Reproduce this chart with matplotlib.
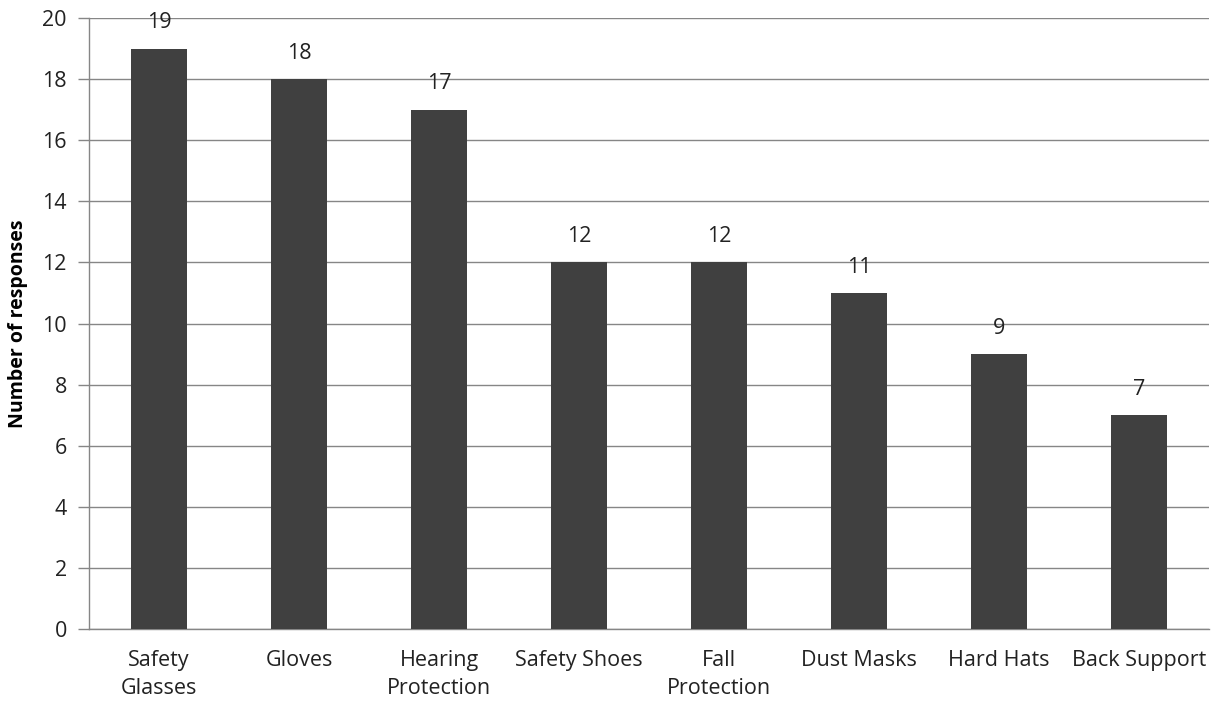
import matplotlib
matplotlib.use("Agg")
import matplotlib.pyplot as plt

categories = ["Safety\nGlasses", "Gloves", "Hearing\nProtection", "Safety Shoes",
              "Fall\nProtection", "Dust Masks", "Hard Hats", "Back Support"]
values = [19, 18, 17, 12, 12, 11, 9, 7]
yticks = [0, 2, 4, 6, 8, 10, 12, 14, 16, 18, 20]

plt.rcParams['font.family'] = ['Open Sans', 'DejaVu Sans']

fig = plt.figure(figsize=(12.13, 7.03), dpi=100)
ax = fig.add_axes([89/1213, 1-629/703, (1209-89)/1213, (629-18)/703])

x = list(range(len(categories)))
ax.bar(x, values, width=0.4, color="#404040", zorder=3)
ax.set_xlim(-0.5, len(categories) - 0.5)
ax.set_ylim(0, 20)
ax.set_yticks(yticks)
ax.set_yticklabels([str(t) for t in yticks], fontsize=15.5, color="#222222")
ax.set_xticks(x)
ax.set_xticklabels(categories, fontsize=15.5, color="#222222", linespacing=1.45)
ax.tick_params(axis='x', length=0, pad=15)
ax.tick_params(axis='y', length=8, width=1, color="#868686", pad=8)
ax.grid(axis='y', color="#868686", linewidth=1, zorder=0)
for s in ['top', 'right']:
    ax.spines[s].set_visible(False)
for s in ['left', 'bottom']:
    ax.spines[s].set_color("#868686")
    ax.spines[s].set_linewidth(1)

for xi, v in zip(x, values):
    ax.annotate(str(v), (xi, v), xytext=(0, 11), textcoords='offset points',
                ha='center', va='bottom', fontsize=15.5, color="#222222")

ax.set_ylabel("Number of responses", fontsize=14, fontweight='bold', labelpad=10)

fig.savefig("out.png", dpi=100)
